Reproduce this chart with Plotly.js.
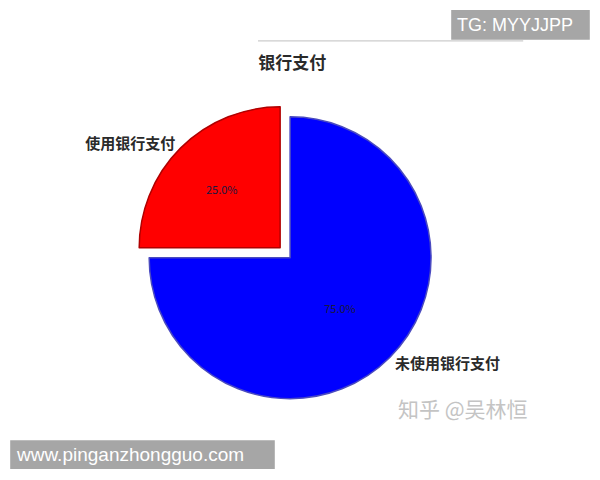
<!DOCTYPE html>
<html>
<head>
<meta charset="utf-8">
<script src="https://cdn.plot.ly/plotly-3.0.1.min.js"></script>
<style>
  html, body { margin: 0; padding: 0; background: #fff; }
  #chart { width: 600px; height: 480px; }
</style>
</head>
<body>
<div id="chart"></div>
<script>
// slice data
const labels = ["使用银行支付", "未使用银行支付"];
const values = [25, 75];
const colors = ["#ff0000", "#0000ff"];
const edgeColors = ["#b00000", "#4a4ac0"];
const pulls = [0.1, 0];

const cjk = "Noto Sans CJK SC, sans-serif";
const dom = { x: [0.225, 0.742], y: [0.14, 0.786] };

// filled slices with percentages inside
const pieInside = {
  type: "pie",
  labels: labels,
  values: values,
  sort: false,
  direction: "clockwise",
  rotation: 270,
  pull: pulls,
  domain: dom,
  marker: { colors: colors, line: { color: edgeColors, width: 1.5 } },
  textinfo: "percent",
  texttemplate: "%{percent:.1%}",
  textposition: "inside",
  insidetextorientation: "horizontal",
  textfont: { family: cjk, size: 11, color: "#1a1a40" },
  hoverinfo: "label+percent",
  showlegend: false
};

// transparent copy carrying the outside labels
const pieLabels = {
  type: "pie",
  labels: labels,
  values: values,
  sort: false,
  direction: "clockwise",
  rotation: 270,
  pull: pulls,
  domain: dom,
  marker: { colors: ["rgba(0,0,0,0)", "rgba(0,0,0,0)"], line: { width: 0 } },
  textinfo: "label",
  texttemplate: "<b>%{label}</b>",
  textposition: "outside",
  automargin: false,
  outsidetextfont: { family: cjk, size: 15, color: "#2a2a2a" },
  hoverinfo: "skip",
  showlegend: false
};

const layout = {
  width: 600,
  height: 480,
  margin: { l: 0, r: 0, t: 0, b: 0 },
  paper_bgcolor: "#ffffff",
  title: {
    text: "<b>银行支付</b>",
    font: { family: cjk, size: 17, color: "#2a2a2a" },
    x: 0.487,
    xanchor: "center",
    y: 0.869,
    yanchor: "middle"
  },
  shapes: [
    { type: "line", layer: "below", xref: "paper", yref: "paper", x0: 0.43, x1: 0.872, y0: 0.915, y1: 0.915,
      line: { color: "#cccccc", width: 1.2 } },
    { type: "rect", layer: "below", xref: "paper", yref: "paper", x0: 0.752, x1: 0.983, y0: 0.917, y1: 0.979,
      fillcolor: "#a6a6a6", line: { width: 0 } },
    { type: "rect", layer: "below", xref: "paper", yref: "paper", x0: 0.017, x1: 0.458, y0: 0.023, y1: 0.083,
      fillcolor: "#a6a6a6", line: { width: 0 } }
  ],
  annotations: [
    { text: "TG: MYYJJPP", xref: "paper", yref: "paper", x: 0.758, y: 0.948,
      xanchor: "left", yanchor: "middle", showarrow: false,
      font: { family: "Liberation Sans, Arial, sans-serif", size: 18, color: "#ffffff" } },
    { text: "www.pinganzhongguo.com", xref: "paper", yref: "paper", x: 0.023, y: 0.054,
      xanchor: "left", yanchor: "middle", showarrow: false,
      font: { family: "Liberation Sans, Arial, sans-serif", size: 19, color: "#ffffff" } },
    { text: "知乎 @吴林恒", xref: "paper", yref: "paper", x: 0.772, y: 0.15,
      xanchor: "center", yanchor: "middle", showarrow: false,
      font: { family: cjk, size: 21, color: "#c4c4c4" } }
  ]
};

Plotly.newPlot("chart", [pieInside, pieLabels], layout, { staticPlot: true });
</script>
</body>
</html>
